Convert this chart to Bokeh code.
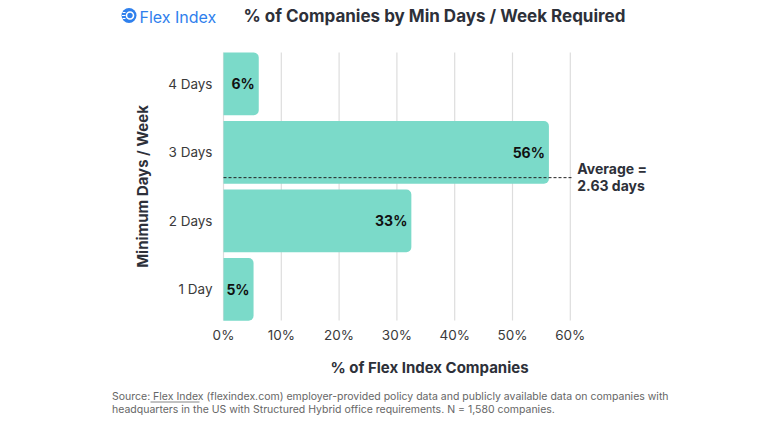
import math
from bokeh.plotting import figure
from bokeh.models import FixedTicker, PrintfTickFormatter, ColumnDataSource
from bokeh.core.properties import value
from bokeh.embed import file_html
from bokeh.resources import INLINE

categories = ["1 Day", "2 Days", "3 Days", "4 Days"]
days = [1, 2, 3, 4]
pct = [5.2, 32.5, 56.3, 6.1]
pct_labels = ["5%", "33%", "56%", "6%"]
label_pct = [5, 33, 56, 6]
x_ticks = [0, 10, 20, 30, 40, 50, 60]

avg_days = round(sum(d * v for d, v in zip(days, label_pct)) / 100, 2)

FONT = "Inter"
DARK = "#2d3039"
TEAL = "#7bdac9"
BLUE = "#2f80ed"
GREY = "#666666"
W, H = 752, 416

# pixel layout of the chart area (canvas pixels)
X0_PX, KX = 223, 5.78      # x = 0 at 223px, 5.78px per percentage point
Y4_PX, KY = 83.3, 68.5     # "4 Days" centre at 83.3px, 68.5px per category


def X(px):
    return (px - X0_PX) / KX


def Y(py):
    return 4 - (py - Y4_PX) / KY


ylo, yhi = Y(320), Y(52)

p = figure(width=W, height=H, x_range=(X(0), X(W)), y_range=(Y(H), Y(0)),
           output_backend="svg", toolbar_location=None,
           min_border=0, min_border_left=0, min_border_right=0,
           min_border_top=0, min_border_bottom=0)
p.outline_line_color = None
p.grid.grid_line_color = None
p.background_fill_color = "white"

# gridlines limited to the chart area
p.segment(x0=x_ticks, y0=[ylo] * len(x_ticks), x1=x_ticks, y1=[yhi] * len(x_ticks),
          line_color="#dddddd", line_width=1.2)

src = ColumnDataSource(dict(y=days, right=pct, lab=pct_labels))
p.hbar(y="y", left=0, right="right", height=0.915, source=src,
       fill_color=TEAL, line_color=None, border_radius=(0, 5, 5, 0))
p.text(x="right", y="y", text="lab", source=src, x_offset=-4,
       text_align="right", text_baseline="middle", text_font=value(FONT),
       text_font_style="bold", text_font_size="14px", text_color="#111111")

# average line and its note
p.segment(x0=[0], y0=[avg_days], x1=[x_ticks[-1] + 0.5], y1=[avg_days],
          line_color="#222222", line_width=1, line_dash="3 2")
for s, off in (("Average =", -9), (f"{avg_days:.2f} days", 8)):
    p.text(x=[x_ticks[-1]], y=[avg_days], text=[s], x_offset=7, y_offset=off,
           text_align="left", text_baseline="middle", text_font=value(FONT),
           text_font_style="bold", text_font_size="14px", text_color=DARK)

# axes anchored inside the frame
p.xaxis.fixed_location = ylo
p.yaxis.fixed_location = 0
p.xaxis.ticker = FixedTicker(ticks=x_ticks)
p.xaxis.formatter = PrintfTickFormatter(format="%d%%")
p.yaxis.ticker = FixedTicker(ticks=days)
p.yaxis.major_label_overrides = {d: c for d, c in zip(days, categories)}
for ax in (p.xaxis[0], p.yaxis[0]):
    ax.axis_line_color = None
    ax.major_tick_line_color = None
    ax.minor_tick_line_color = None
    ax.major_tick_out = 0
    ax.major_tick_in = 0
    ax.major_label_text_font = FONT
    ax.major_label_text_font_size = "13.5px"
    ax.major_label_text_color = "#3a3a3a"
p.xaxis.major_label_standoff = 6
p.yaxis.major_label_standoff = 11


def txt(px, py, s, size, color=DARK, style="normal", align="left", angle=0.0):
    p.text(x=[X(px)], y=[Y(py)], text=[s], text_font=value(FONT),
           text_font_size=size, text_color=color, text_font_style=style,
           text_align=align, text_baseline="middle", angle=angle)


# axis titles
txt(429, 367, "% of Flex Index Companies", "15px", style="bold", align="center")
txt(142, 186, "Minimum Days / Week", "15px", style="bold", align="center",
    angle=math.pi / 2)

# header
p.scatter(x=[X(128.5)], y=[Y(15)], size=15, marker="circle", fill_color=BLUE,
          line_color=None)
p.scatter(x=[X(129.5)], y=[Y(15)], size=7, marker="circle", fill_color=None,
          line_color="white", line_width=1.6)
p.segment(x0=[X(122), X(121.5), X(122)], y0=[Y(12), Y(15), Y(18)],
          x1=[X(125)] * 3, y1=[Y(12), Y(15), Y(18)],
          line_color="white", line_width=1.2)
txt(139, 16, "Flex Index", "16px", color=BLUE)
txt(243, 15, "% of Companies by Min Days / Week Required", "17px", style="bold")

# footer
l1, l2 = 396, 409
FS = "10.5px"
txt(111.5, l1,
    "Source: Flex Index (flexindex.com) employer-provided policy data and publicly available data on companies with",
    FS, color=GREY)
p.segment(x0=[X(150)], y0=[Y(l1 + 5.5)], x1=[X(199)], y1=[Y(l1 + 5.5)],
          line_color=GREY, line_width=0.8)
txt(111.5, l2,
    "headquarters in the US with Structured Hybrid office requirements. N = 1,580 companies.",
    FS, color=GREY)

open("out.html", "w").write(file_html(p, INLINE))
